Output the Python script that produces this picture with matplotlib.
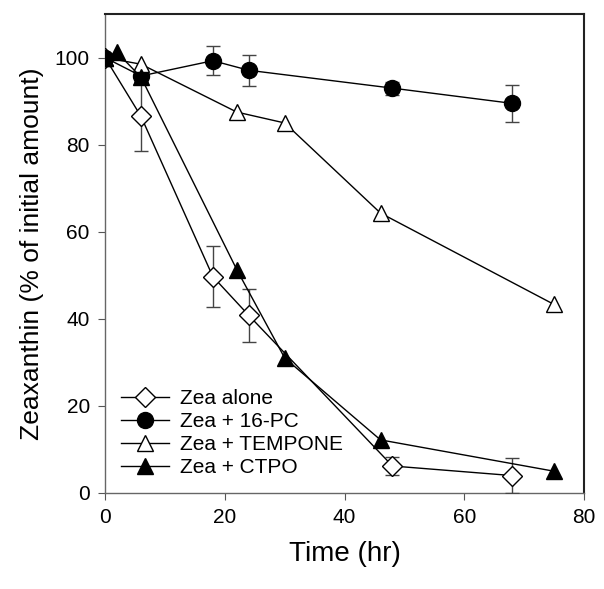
import matplotlib
matplotlib.use("Agg")
import matplotlib.pyplot as plt
from matplotlib.lines import Line2D

plt.rcParams['font.family'] = ['Liberation Sans', 'DejaVu Sans']

# Zea alone
t_alone = [0, 6, 18, 24, 48, 68]
y_alone = [100, 86.5, 49.7, 40.8, 6.2, 4.0]
e_alone = [0, 8, 7, 6, 2, 4]

# Zea + 16-PC
t_pc = [0, 6, 18, 24, 48, 68]
y_pc = [100, 95.8, 99.3, 97.1, 93.0, 89.5]
e_pc = [0, 1.5, 3.3, 3.6, 1.5, 4.2]

# Zea + TEMPONE
t_temp = [0, 6, 22, 30, 46, 75]
y_temp = [100, 98.5, 87.5, 85.0, 64.3, 43.3]

# Zea + CTPO
t_ctpo = [0, 2, 6, 22, 30, 46, 75]
y_ctpo = [100, 101.2, 95.5, 51.3, 31.0, 12.2, 5.0]

labels = ['Zea alone', 'Zea + 16-PC', 'Zea + TEMPONE', 'Zea + CTPO']
x_ticks = [0, 20, 40, 60, 80]
y_ticks = [0, 20, 40, 60, 80, 100]

fig = plt.figure(figsize=(6.04, 5.89), dpi=100)
ax = fig.add_axes([0.174, 0.163, 0.793, 0.813])

lw = 1.0
ecol = '#444444'
st1 = dict(color='black', lw=lw, marker='D', markersize=10.5, markerfacecolor='white',
           markeredgecolor='black', markeredgewidth=1.0)
st2 = dict(color='black', lw=lw, marker='o', markersize=11.5, markerfacecolor='black',
           markeredgecolor='black')
st3 = dict(color='black', lw=lw, marker='^', markersize=12, markerfacecolor='white',
           markeredgecolor='black', markeredgewidth=1.0)
st4 = dict(color='black', lw=lw, marker='^', markersize=12, markerfacecolor='black',
           markeredgecolor='black')

ax.errorbar(t_alone, y_alone, yerr=e_alone, fmt='-', ecolor=ecol, elinewidth=1.0,
            capsize=5, capthick=1.0, zorder=3, **st1)
ax.errorbar(t_pc, y_pc, yerr=e_pc, fmt='-', ecolor=ecol, elinewidth=1.0,
            capsize=5, capthick=1.0, zorder=4, **st2)
ax.plot(t_temp, y_temp, '-', zorder=5, **st3)
ax.plot(t_ctpo, y_ctpo, '-', zorder=6, **st4)

ax.set_xlim(0, 80)
ax.set_ylim(0, 110)
ax.set_xticks(x_ticks)
ax.set_yticks(y_ticks)
ax.tick_params(direction='out', length=5, width=0.8, colors='#555555',
               labelcolor='black', labelsize=15, pad=6)
ax.tick_params(top=False, right=False)
for side in ['left', 'bottom']:
    ax.spines[side].set_color('#666666')
    ax.spines[side].set_linewidth(1.0)
for side in ['top', 'right']:
    ax.spines[side].set_color('#222222')
    ax.spines[side].set_linewidth(1.5)

ax.set_xlabel('Time (hr)', fontsize=20, labelpad=10)
ax.set_ylabel('Zeaxanthin (% of initial amount)', fontsize=19, labelpad=8)

handles = [Line2D([], [], **st1), Line2D([], [], **st2),
           Line2D([], [], **st3), Line2D([], [], **st4)]
leg = ax.legend(handles, labels, loc='lower left', frameon=False,
                fontsize=15, handlelength=2.3, handletextpad=0.55,
                labelspacing=0.2, borderaxespad=0.35, borderpad=0.4)

fig.savefig('out.png', dpi=100)
